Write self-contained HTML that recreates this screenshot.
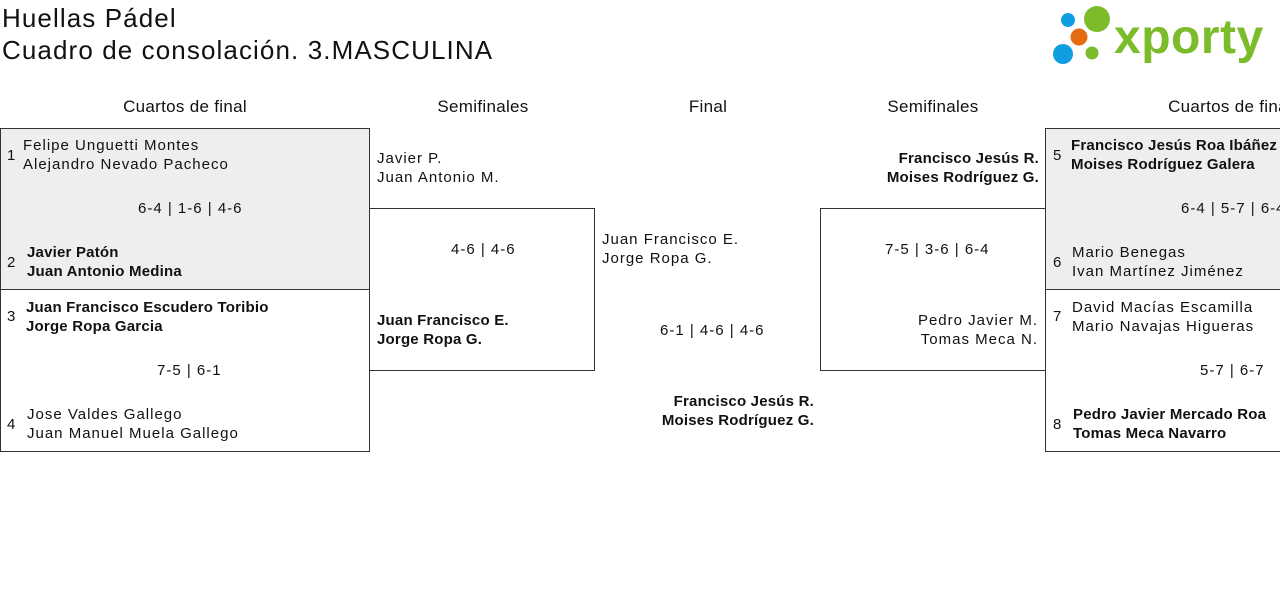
<!DOCTYPE html>
<html><head><meta charset="utf-8"><style>
body{margin:0;width:1280px;height:598px;overflow:hidden;background:#fff;position:relative;font-family:"Liberation Sans",sans-serif;color:#111;}
.t{position:absolute;font-size:15px;line-height:19px;letter-spacing:1px;white-space:nowrap;}
.b{font-weight:bold;letter-spacing:0.2px;}
.h{position:absolute;font-size:17px;line-height:20px;letter-spacing:0.3px;white-space:nowrap;transform:translateX(-50%);}
.box{position:absolute;border:1px solid #333;box-sizing:border-box;}
.g{background:#eee;}
.r{text-align:right;}
</style></head><body>
<div style="position:absolute;left:2px;top:2px;font-size:26px;line-height:32px;letter-spacing:1.1px">Huellas Pádel<br>Cuadro de consolación. 3.MASCULINA</div>
<svg style="position:absolute;left:1050px;top:4px" width="230" height="64">
<circle cx="18" cy="16" r="7" fill="#0f9ee0"/><circle cx="47" cy="15" r="13" fill="#7cbb2a"/>
<circle cx="29" cy="33" r="8.5" fill="#e46b10"/><circle cx="13" cy="50" r="10" fill="#0f9ee0"/><circle cx="42" cy="49" r="6.5" fill="#7cbb2a"/>
<text x="64" y="49" font-family="Liberation Sans,sans-serif" font-weight="bold" font-size="48" fill="#7cbb2a" letter-spacing="0.5">xporty</text>
</svg>
<div class="h" style="left:185px;top:97px">Cuartos de final</div>
<div class="h" style="left:483px;top:97px">Semifinales</div>
<div class="h" style="left:708px;top:97px">Final</div>
<div class="h" style="left:933px;top:97px">Semifinales</div>
<div class="h" style="left:1230px;top:97px">Cuartos de final</div>

<div class="box g" style="left:0;top:128px;width:370px;height:162px"></div>
<div class="box" style="left:0;top:289px;width:370px;height:163px"></div>
<div class="box" style="left:369px;top:208px;width:226px;height:163px"></div>
<div class="box" style="left:820px;top:208px;width:226px;height:163px"></div>
<div class="box g" style="left:1045px;top:128px;width:370px;height:162px"></div>
<div class="box" style="left:1045px;top:289px;width:370px;height:163px"></div>

<div class="t" style="left:7px;top:146px">1</div>
<div class="t" style="left:23px;top:136px">Felipe Unguetti Montes<br>Alejandro Nevado Pacheco</div>
<div class="t" style="left:138px;top:199px">6-4 | 1-6 | 4-6</div>
<div class="t" style="left:7px;top:253px">2</div>
<div class="t b" style="left:27px;top:243px">Javier Patón<br>Juan Antonio Medina</div>
<div class="t" style="left:7px;top:307px">3</div>
<div class="t b" style="left:26px;top:298px">Juan Francisco Escudero Toribio<br>Jorge Ropa Garcia</div>
<div class="t" style="left:157px;top:361px">7-5 | 6-1</div>
<div class="t" style="left:7px;top:415px">4</div>
<div class="t" style="left:27px;top:405px">Jose Valdes Gallego<br>Juan Manuel Muela Gallego</div>

<div class="t" style="left:377px;top:149px">Javier P.<br>Juan Antonio M.</div>
<div class="t" style="left:451px;top:240px">4-6 | 4-6</div>
<div class="t b" style="left:377px;top:311px">Juan Francisco E.<br>Jorge Ropa G.</div>

<div class="t" style="left:602px;top:230px">Juan Francisco E.<br>Jorge Ropa G.</div>
<div class="t" style="left:660px;top:321px">6-1 | 4-6 | 4-6</div>
<div class="t b r" style="right:466px;top:392px">Francisco Jesús R.<br>Moises Rodríguez G.</div>

<div class="t b r" style="right:241px;top:149px">Francisco Jesús R.<br>Moises Rodríguez G.</div>
<div class="t" style="left:885px;top:240px">7-5 | 3-6 | 6-4</div>
<div class="t r" style="right:242px;top:311px">Pedro Javier M.<br>Tomas Meca N.</div>

<div class="t" style="left:1053px;top:146px">5</div>
<div class="t b" style="left:1071px;top:136px">Francisco Jesús Roa Ibáñez<br>Moises Rodríguez Galera</div>
<div class="t" style="left:1181px;top:199px">6-4 | 5-7 | 6-4</div>
<div class="t" style="left:1053px;top:253px">6</div>
<div class="t" style="left:1072px;top:243px">Mario Benegas<br>Ivan Martínez Jiménez</div>
<div class="t" style="left:1053px;top:307px">7</div>
<div class="t" style="left:1072px;top:298px">David Macías Escamilla<br>Mario Navajas Higueras</div>
<div class="t" style="left:1200px;top:361px">5-7 | 6-7</div>
<div class="t" style="left:1053px;top:415px">8</div>
<div class="t b" style="left:1073px;top:405px">Pedro Javier Mercado Roa<br>Tomas Meca Navarro</div>
</body></html>
